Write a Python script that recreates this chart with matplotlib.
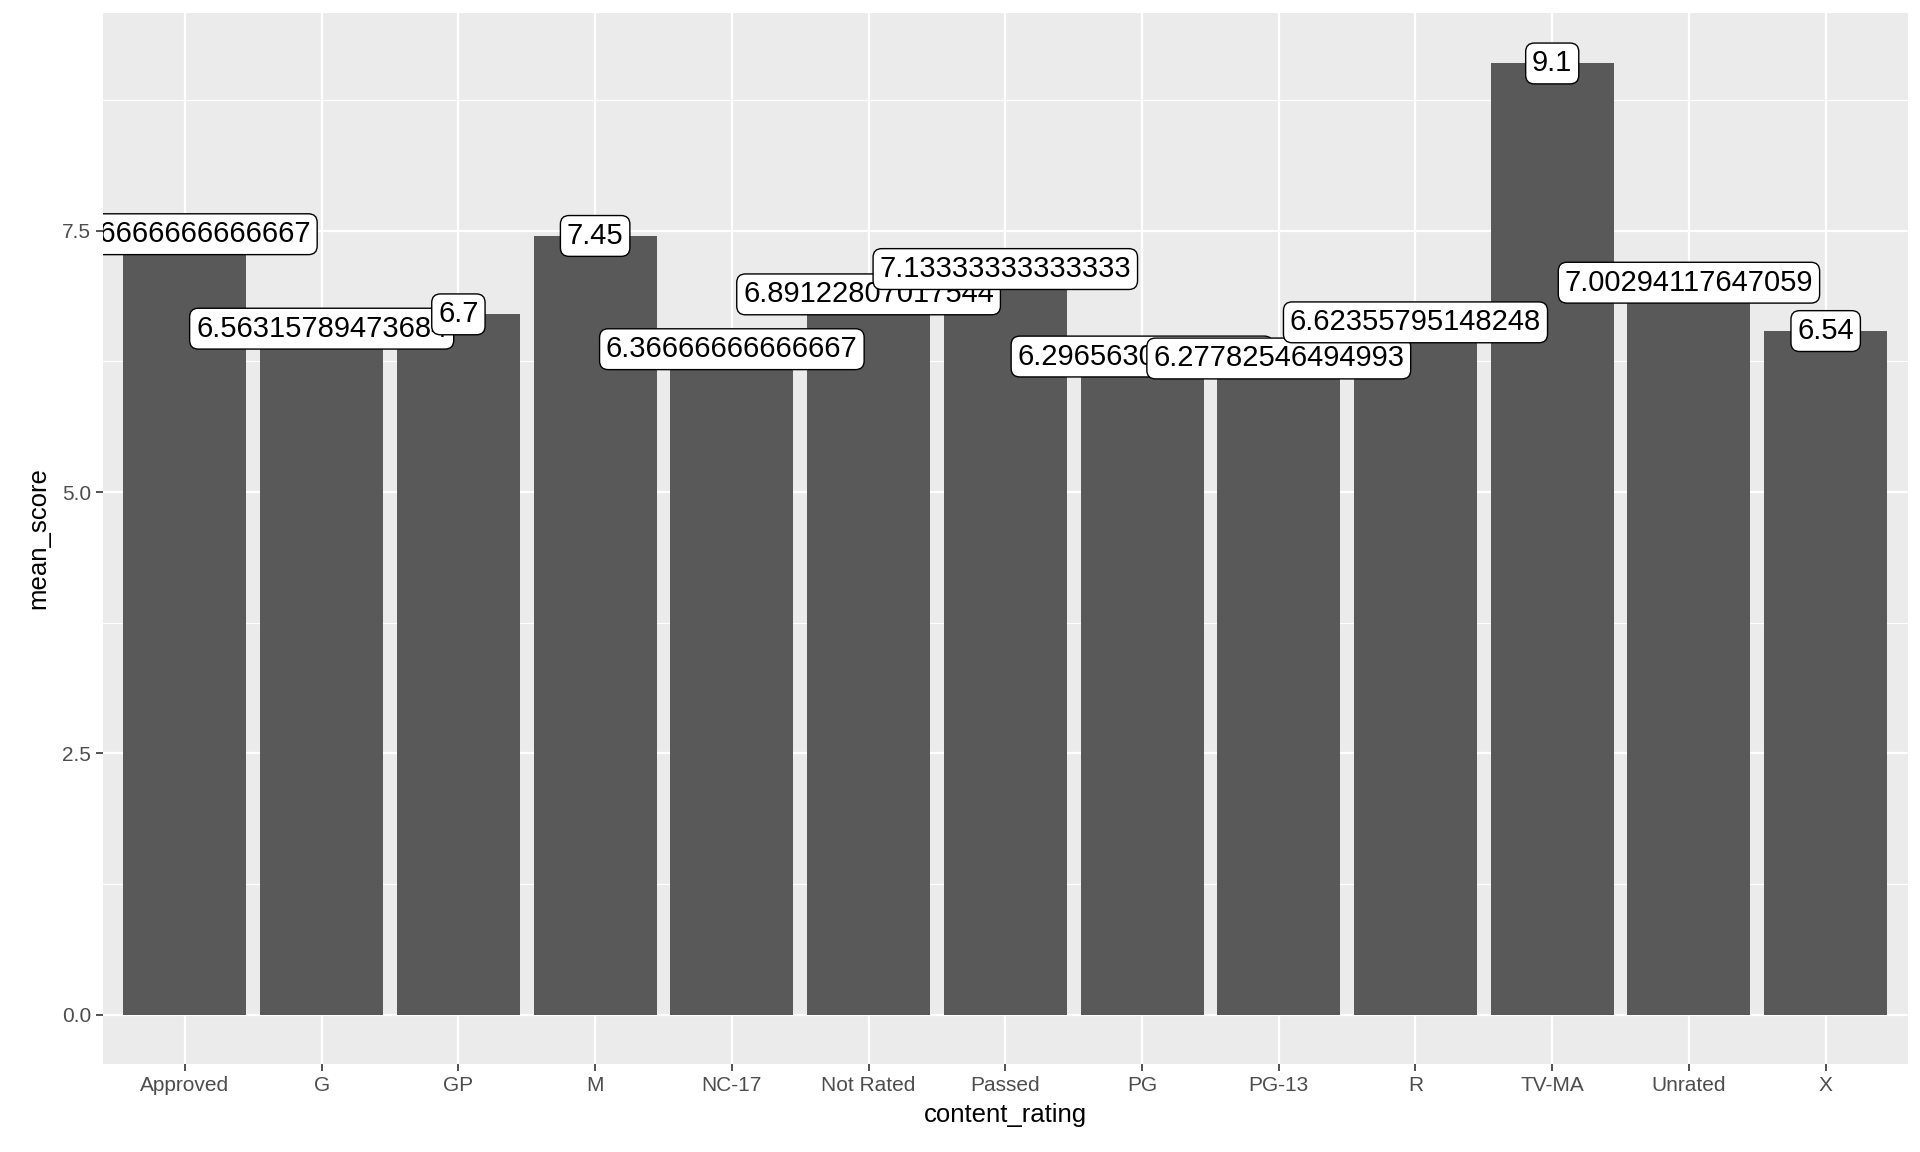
import matplotlib
matplotlib.use("Agg")
import matplotlib.pyplot as plt

categories = ["Approved", "G", "GP", "M", "NC-17", "Not Rated", "Passed", "PG", "PG-13", "R", "TV-MA", "Unrated", "X"]
values = [7.46666666666667, 6.56315789473684, 6.7, 7.45, 6.36666666666667, 6.89122807017544,
          7.13333333333333, 6.29656301145663, 6.27782546494993, 6.62355795148248, 9.1,
          7.00294117647059, 6.54]
labels = ["7.46666666666667", "6.56315789473684", "6.7", "7.45", "6.36666666666667", "6.89122807017544",
          "7.13333333333333", "6.29656301145663", "6.27782546494993", "6.62355795148248", "9.1",
          "7.00294117647059", "6.54"]

plt.rcParams['font.family'] = ['Liberation Sans', 'DejaVu Sans']
fig = plt.figure(figsize=(19.2, 11.52), dpi=100)
ax = fig.add_axes([0.0536, 0.0766, 0.94, 0.9124])
ax.set_facecolor('#EBEBEB')
x = list(range(len(categories)))
ax.bar(x, values, width=0.9, color='#595959', zorder=2)
ax.set_xlim(-0.6, 12.6)
ax.set_ylim(-0.469, 9.586)
ax.set_yticks([0, 2.5, 5, 7.5])
ax.set_yticks([1.25, 3.75, 6.25, 8.75], minor=True)
ax.set_xticks(x)
ax.set_xticklabels(categories)
ax.grid(True, which='major', color='white', lw=1.6, zorder=0)
ax.grid(True, which='minor', axis='y', color='white', lw=0.8, zorder=0)
for s in ax.spines.values():
    s.set_visible(False)
ax.tick_params(axis='both', which='major', colors='#333333', labelcolor='#4D4D4D', labelsize=15, length=5, width=1.2)
ax.tick_params(axis='y', which='minor', length=0)
for i, (v, t) in enumerate(zip(values, labels)):
    ax.text(i, v, t, ha='center', va='center', fontsize=21, color='black', zorder=3 + i,
            clip_on=True,
            bbox=dict(boxstyle='round,pad=0.22,rounding_size=0.3', fc='white', ec='black', lw=1))
ax.set_xlabel('content_rating', fontsize=18.5, labelpad=6)
ax.set_ylabel('mean_score', fontsize=18.5, labelpad=8)
fig.savefig('out.png', dpi=100)
